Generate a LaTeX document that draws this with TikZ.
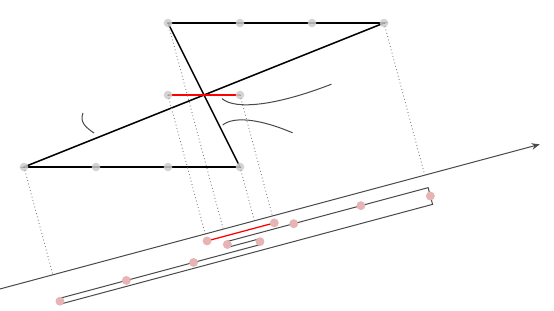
\documentclass[tikz,border=0pt]{standalone}
\usetikzlibrary{calc,arrows.meta}
\definecolor{dotgray}{HTML}{CCCCCC}
\definecolor{dotpink}{HTML}{E6B4B4}
\definecolor{bandgray}{HTML}{4A4A4A}

\begin{document}
\begin{tikzpicture}[
    zline/.style={black, line width=0.6pt},
    redline/.style={red, line width=0.5pt},
    projline/.style={gray, densely dotted, line width=0.35pt},
    bandline/.style={bandgray, line width=0.4pt},
    curvy/.style={bandgray, line width=0.4pt},
    graydot/.style={fill=dotgray, fill opacity=0.85},
    pinkdot/.style={fill=dotpink}]
  \useasboundingbox (-0.3333,-2.0) rectangle (7.3611,2.3194);

  % Grid points of the path
  \coordinate (p00) at (0,0);
  \coordinate (p10) at (1,0);
  \coordinate (p20) at (2,0);
  \coordinate (p30) at (3,0);
  \coordinate (p21) at (2,1);
  \coordinate (p31) at (3,1);
  \coordinate (p22) at (2,2);
  \coordinate (p32) at (3,2);
  \coordinate (p42) at (4,2);
  \coordinate (p52) at (5,2);

  % Axis and the levels of the unrolled path (rotated frame)
  \begin{scope}[rotate=15]
    \coordinate (axL) at (-0.76,-1.55);
    \coordinate (axR) at (7.0,-1.55);
    \foreach \lv/\v in {red/-1.65, A/-1.73, DA/-1.77, D/-1.81, CD/-1.85,
                        AB/-1.85, C/-1.89, BC/-1.93, B/-1.97}{
      \coordinate (\lv0) at (0,\v);
      \coordinate (\lv1) at (1,\v);
    }
  \end{scope}

  % The closed path and the red piece
  \draw[zline] (p22) -- (p52) -- (p00) -- (p30) -- cycle;
  \draw[redline] (p21) -- (p31);

  % Points
  \foreach \p in {p00,p10,p20,p30,p21,p31,p22,p32,p42,p52}
    \fill[graydot] (\p) circle (0.06);

  % Curves
  \draw[curvy] (0.819,0.75) .. controls (0.77,0.62) and (0.86,0.55) .. (0.972,0.472);
  \draw[curvy] (2.75,0.95) .. controls (2.93,0.79) and (3.5,0.85) .. (4.27,1.15);
  \draw[curvy] (2.76,0.583) .. controls (2.9,0.7) and (3.25,0.68) .. (3.73,0.475);

  % Projections onto the axis
  \foreach \p in {p00,p21,p22,p31,p30,p52}
    \draw[projline] (\p) -- ($(axL)!(\p)!(axR)$);
  \draw[bandgray, line width=0.4pt, -{Stealth[length=3.2pt,width=2.6pt]}] (axL) -- (axR);

  % Unrolled path below the axis
  \draw[bandline] ($(D0)!(p22)!(D1)$) -- ($(A0)!(p22)!(A1)$)
    -- ($(A0)!(p52)!(A1)$) -- ($(B0)!(p52)!(B1)$)
    -- ($(B0)!(p00)!(B1)$) -- ($(C0)!(p00)!(C1)$)
    -- ($(C0)!(p30)!(C1)$) -- ($(D0)!(p30)!(D1)$) -- cycle;
  \draw[redline] ($(red0)!(p21)!(red1)$) -- ($(red0)!(p31)!(red1)$);

  \foreach \p/\lv in {p52/AB, p42/A, p32/A, p22/DA, p31/red, p21/red,
                      p30/CD, p20/C, p10/C, p00/BC}
    \fill[pinkdot] ($(\lv0)!(\p)!(\lv1)$) circle (0.062);
\end{tikzpicture}
\end{document}
